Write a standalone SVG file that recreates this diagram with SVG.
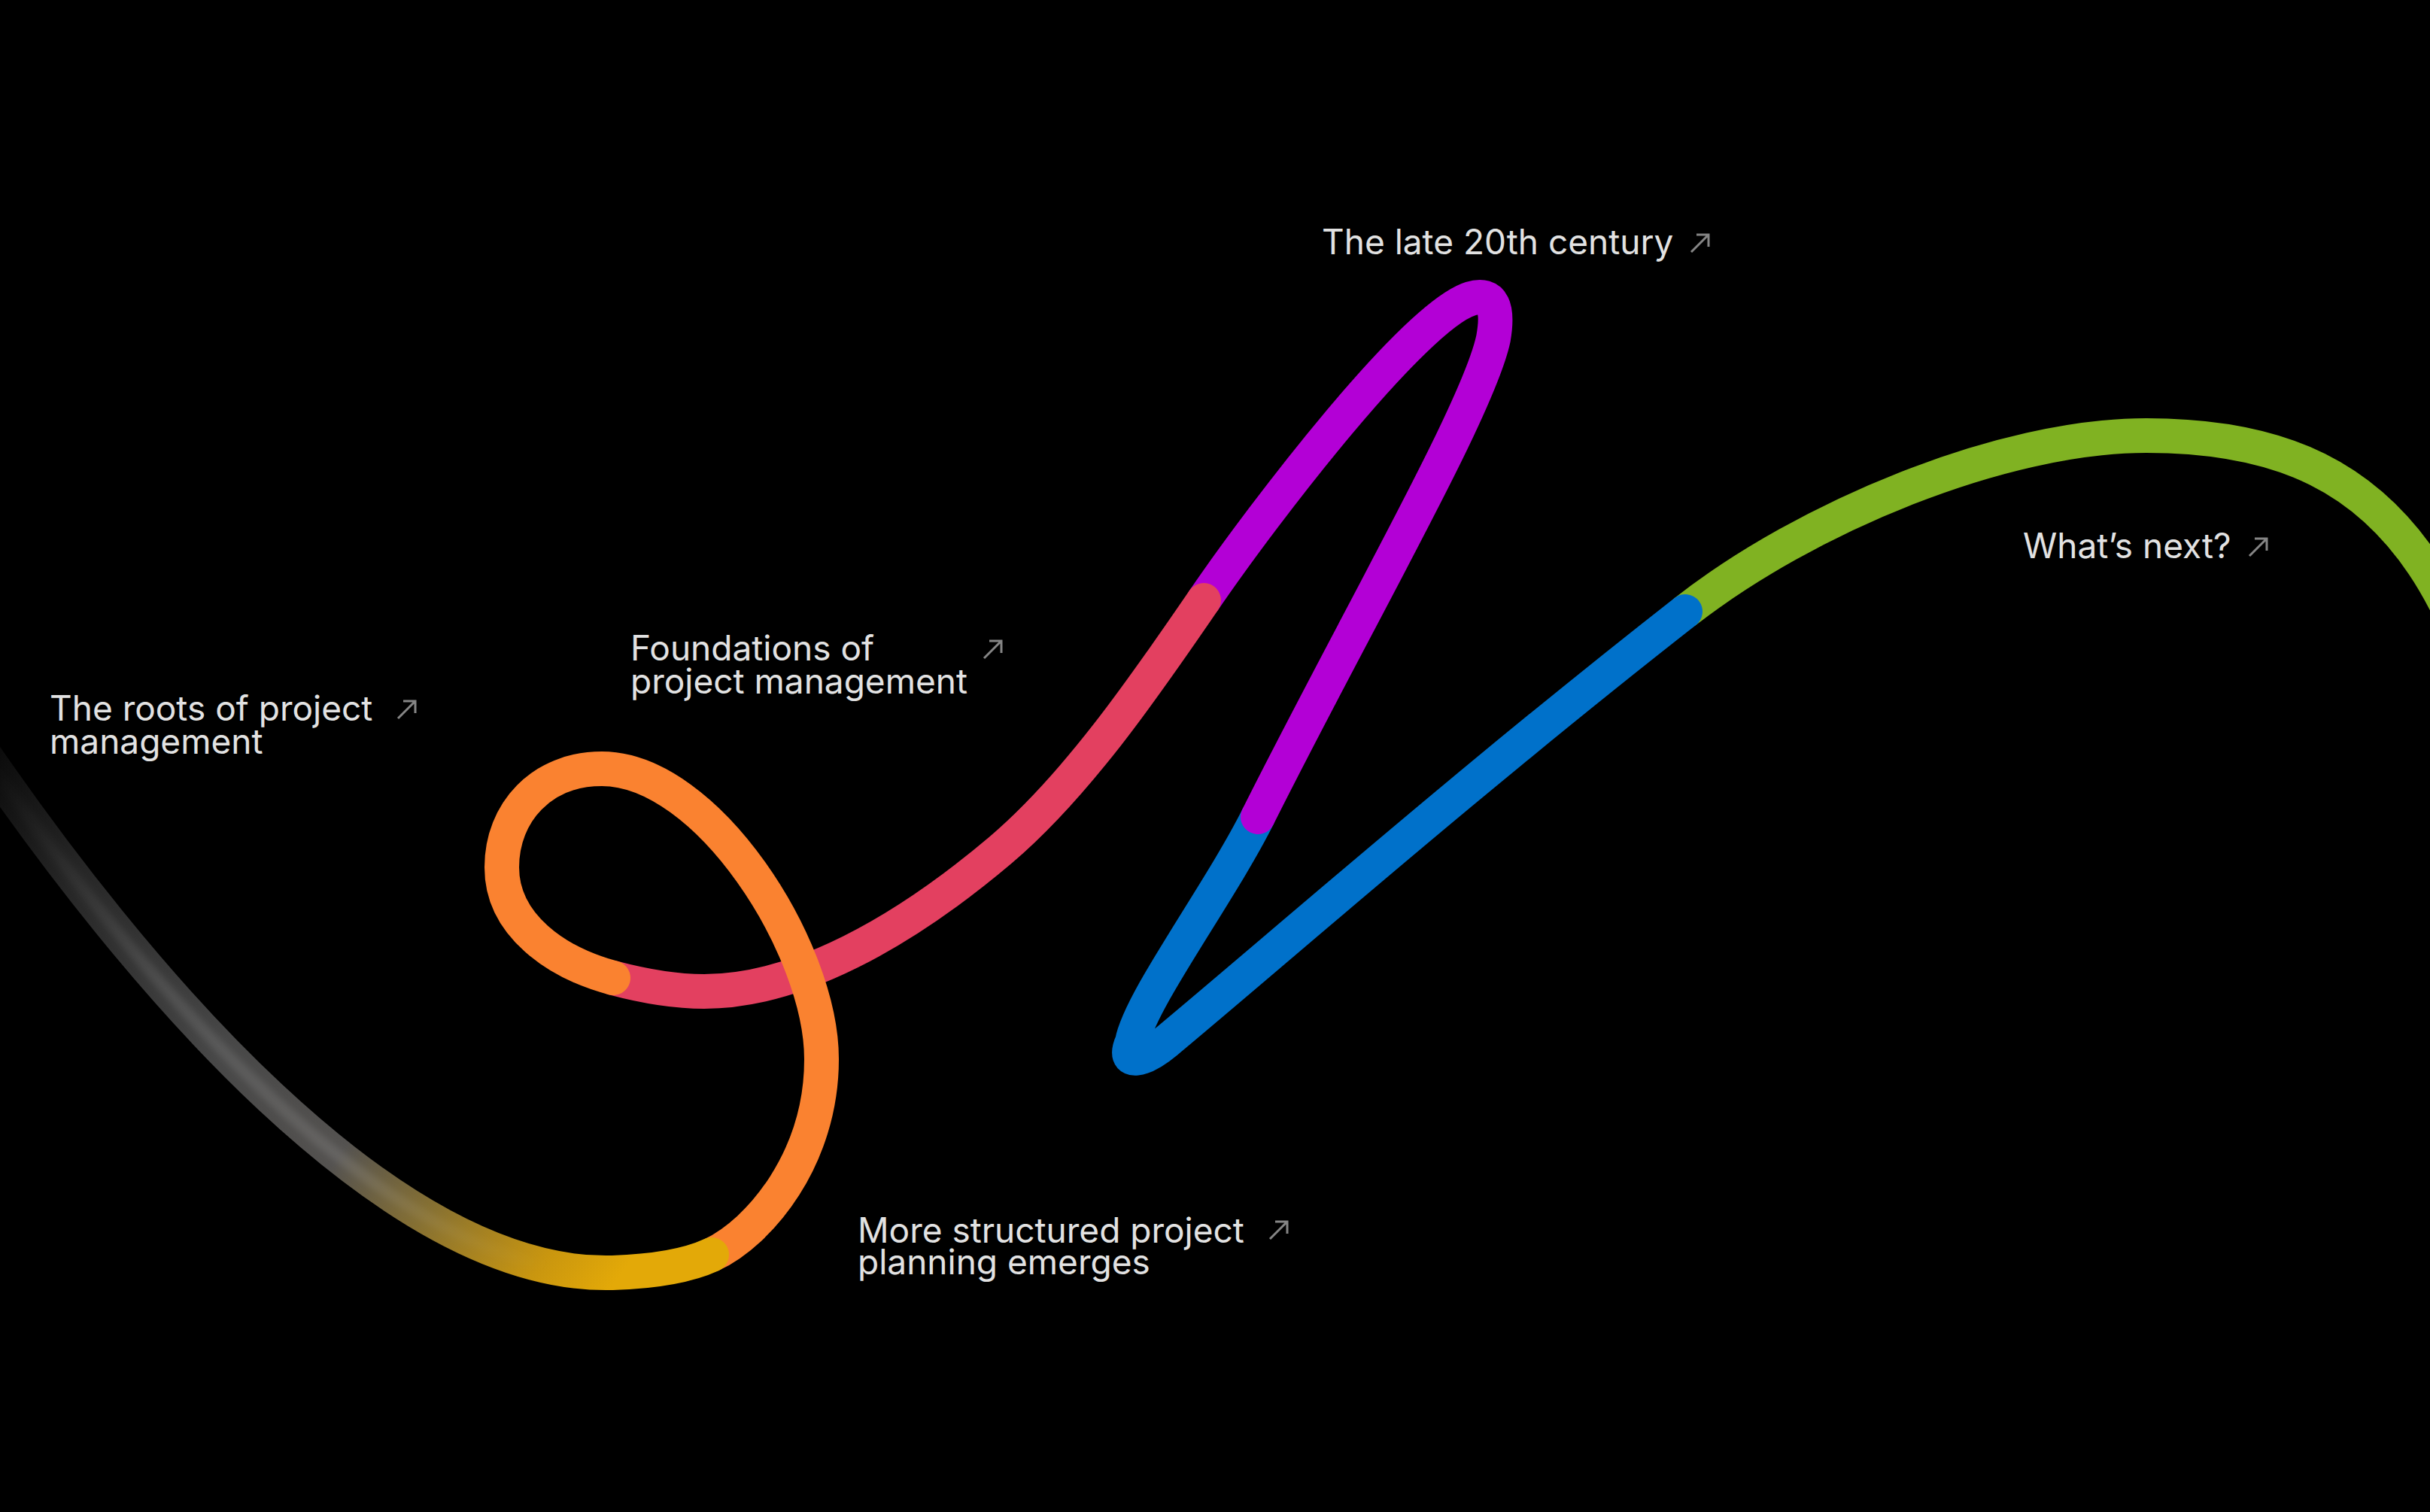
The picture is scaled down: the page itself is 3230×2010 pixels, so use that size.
<svg xmlns="http://www.w3.org/2000/svg" width="3230" height="2010" viewBox="0 0 3230 2010">
<defs>
<style>
.seg{fill:none;stroke-width:46;stroke-linecap:round;stroke-linejoin:round}
.lbl{font-family:Inter,"Noto Sans","Liberation Sans",sans-serif;font-size:46px;fill:#e2e2e2}
.ico{fill:none;stroke:#858585;stroke-width:3}
</style>
<linearGradient id="gGray" gradientUnits="userSpaceOnUse" x1="0" y1="1000" x2="950" y2="1680">
<stop offset="0" stop-color="#0c0c0c"/>
<stop offset="0.15" stop-color="#262626"/>
<stop offset="0.4" stop-color="#474747"/>
<stop offset="0.58" stop-color="#545250"/>
<stop offset="0.7" stop-color="#867032"/>
<stop offset="0.84" stop-color="#c9960f"/>
<stop offset="0.92" stop-color="#e3a908"/>
<stop offset="1" stop-color="#e3a908"/>
</linearGradient>
<linearGradient id="gSheen" gradientUnits="userSpaceOnUse" x1="0" y1="1000" x2="950" y2="1680">
<stop offset="0" stop-color="#fff" stop-opacity="0"/>
<stop offset="0.3" stop-color="#fff" stop-opacity="0.1"/>
<stop offset="0.6" stop-color="#fff" stop-opacity="0.1"/>
<stop offset="0.85" stop-color="#fff" stop-opacity="0"/>
</linearGradient>
<filter id="soft" x="-10%" y="-10%" width="120%" height="120%"><feGaussianBlur stdDeviation="4"/></filter>
<path id="arr" class="ico" d="M0,23 L23,0 M7,0 H23 V16"/>
</defs>
<rect width="3230" height="2010" fill="#000"/>
<g id="timeline-path">
<path class="seg" stroke="#80b222" d="M 2240,813 C 2400,688 2660,579 2853,579 C 3020,579 3160,625 3250,800"/>
<path class="seg" stroke="#0071ca" d="M 1672,1086 C 1622,1186 1515,1330 1505,1385 C 1490,1418 1520,1410 1550,1385 C 1700,1260 1950,1040 2240,813"/>
<path class="seg" stroke="#b300d6" d="M 1600,798 C 1680,681 1880,420 1955,397 C 1985,388 1992,410 1985,450 C 1965,545 1800,830 1672,1086"/>
<path class="seg" stroke="#e34060" d="M 815,1300 C 860,1312 900,1318 936,1318 C 1060,1318 1200,1240 1330,1130 C 1430,1045 1520,915 1600,798"/>
<path class="seg" stroke="#fa8230" d="M 946,1668 C 1010,1638 1092,1540 1092,1408 C 1092,1260 940,1022 800,1022 C 720,1022 667,1080 667,1153 C 667,1230 740,1280 815,1300"/>
<path class="seg" stroke="url(#gGray)" d="M -40,975 C 180,1300 520,1700 814,1692 C 880,1690 920,1680 946,1668"/>
<path fill="none" stroke="url(#gSheen)" stroke-width="16" stroke-linecap="round" filter="url(#soft)" d="M -40,975 C 180,1300 520,1700 814,1692"/>
</g>
<g id="node-roots">
<text class="lbl" x="66" y="958">The roots of project</text>
<text class="lbl" x="66" y="1002">management</text>
<use href="#arr" x="529" y="932"/>
</g>
<g id="node-foundations">
<text class="lbl" x="838" y="878">Foundations of</text>
<text class="lbl" x="838" y="922">project management</text>
<use href="#arr" x="1308" y="852"/>
</g>
<g id="node-late20th">
<text class="lbl" x="1757" y="338">The late 20th century</text>
<use href="#arr" x="2248" y="312"/>
</g>
<g id="node-next">
<text class="lbl" x="2689" y="742">What’s next?</text>
<use href="#arr" x="2990" y="716"/>
</g>
<g id="node-structured">
<text class="lbl" x="1140" y="1652">More structured project</text>
<text class="lbl" x="1140" y="1694">planning emerges</text>
<use href="#arr" x="1688" y="1624"/>
</g>
</svg>
